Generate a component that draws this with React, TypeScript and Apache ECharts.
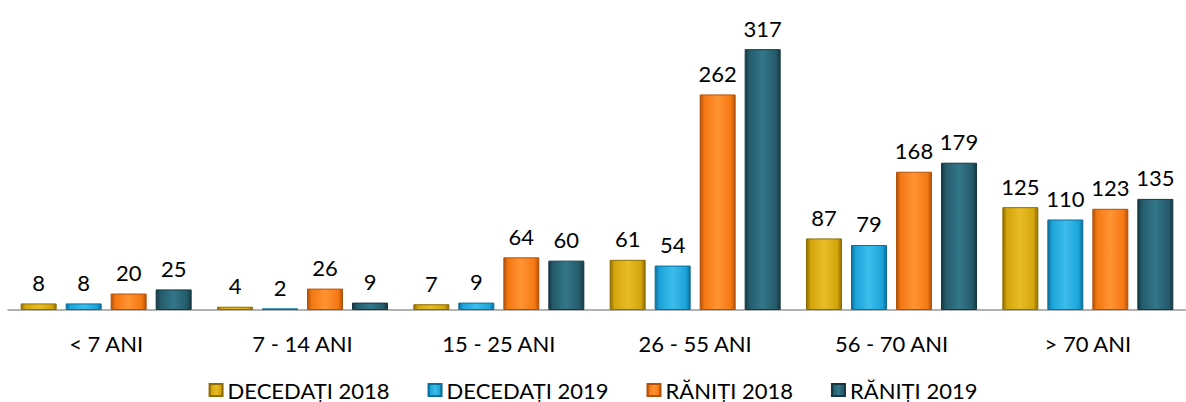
import React, { useEffect, useRef } from "react";
import * as echarts from "echarts";

const categories = ["< 7 ANI", "7 - 14 ANI", "15 - 25 ANI", "26 - 55 ANI", "56 - 70 ANI", "> 70 ANI"];
const seriesNames = ["DECEDAȚI 2018", "DECEDAȚI 2019", "RĂNIȚI 2018", "RĂNIȚI 2019"];
const decedati2018 = [8, 4, 7, 61, 87, 125];
const decedati2019 = [8, 2, 9, 54, 79, 110];
const raniti2018 = [20, 26, 64, 262, 168, 123];
const raniti2019 = [25, 9, 60, 317, 179, 135];

const palette = [
  { base: "#D4A50C", light: "#E8BC26", dark: "#8E6D04" },
  { base: "#1BA3D9", light: "#3CBDEB", dark: "#0C6F9A" },
  { base: "#F57812", light: "#FF9333", dark: "#B2520A" },
  { base: "#255B6B", light: "#33768A", dark: "#143843" },
];

const FONT = "Lato, 'Open Sans', sans-serif";

function grad(p: { base: string; light: string; dark: string }) {
  return new echarts.graphic.LinearGradient(0, 0, 1, 0, [
    { offset: 0, color: p.dark },
    { offset: 0.12, color: p.base },
    { offset: 0.5, color: p.light },
    { offset: 0.88, color: p.base },
    { offset: 1, color: p.dark },
  ]);
}

export default function App() {
  const ref = useRef<HTMLDivElement>(null);
  useEffect(() => {
    document.body.style.margin = "0";
    document.body.style.overflow = "hidden";
    if (!ref.current) return;
    const chart = echarts.init(ref.current, undefined, { renderer: "svg" });
    const data = [decedati2018, decedati2019, raniti2018, raniti2019];
    chart.setOption({
      animation: false,
      backgroundColor: "#ffffff",
      grid: { left: 8, right: -16, top: 22, bottom: 92 },
      legend: {
        data: seriesNames,
        top: 374,
        left: "center",
        icon: "rect",
        itemWidth: 13,
        itemHeight: 12,
        itemGap: 38,
        textStyle: { fontFamily: FONT, fontSize: 22, color: "#000" },
      },
      xAxis: {
        type: "category",
        data: categories,
        axisLine: { lineStyle: { color: "#999999", width: 1.5 } },
        axisTick: { show: false },
        axisLabel: { fontFamily: FONT, fontSize: 22, color: "#000", margin: 22 },
      },
      yAxis: {
        type: "value",
        min: 0,
        max: 350,
        show: false,
        splitLine: { show: false },
      },
      series: seriesNames.map((name, i) => ({
        name,
        type: "bar",
        data: data[i],
        barWidth: 36,
        barGap: "25%",
        itemStyle: {
          color: grad(palette[i]),
          borderColor: palette[i].dark,
          borderWidth: 1,
        },
        label: {
          show: true,
          position: "top",
          distance: 10,
          fontFamily: FONT,
          fontSize: 22,
          color: "#000",
        },
      })),
    });
    return () => chart.dispose();
  }, []);
  return <div ref={ref} style={{ width: 1186, height: 402 }} />;
}
